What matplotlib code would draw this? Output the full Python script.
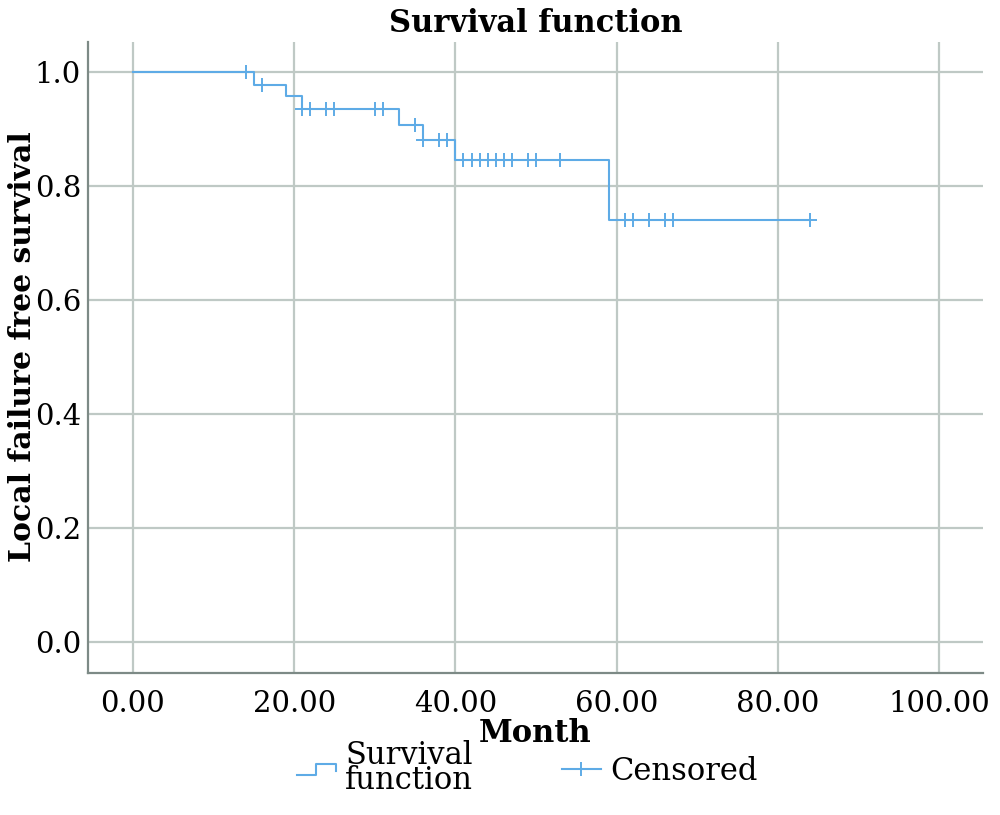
import matplotlib
matplotlib.use('Agg')
import matplotlib.pyplot as plt
from matplotlib.lines import Line2D
from matplotlib.legend_handler import HandlerBase
import numpy as np

# step points of the survival curve (month, survival)
step_month = [0, 15, 19, 21, 33, 36, 40, 59, 84]
step_surv = [1.0, 0.978, 0.957, 0.935, 0.907, 0.880, 0.845, 0.740, 0.740]

# censored observations (month)
censored_month = [14, 16, 21, 22, 24, 25, 30, 31, 35, 36, 38, 39,
                  41, 42, 43, 44, 45, 46, 47, 49, 50, 53,
                  61, 62, 64, 66, 67, 84]

x_ticks = [0, 20, 40, 60, 80, 100]
y_ticks = [0.0, 0.2, 0.4, 0.6, 0.8, 1.0]

line_color = '#5eabe6'
grid_color = '#bfc9c5'
spine_color = '#7d8a86'

plt.rcParams['font.family'] = ['DejaVu Serif']


def surv_at(t):
    idx = np.searchsorted(step_month, t, side='right') - 1
    return step_surv[idx]


class StepHandler(HandlerBase):
    # legend icon drawn as a small step
    def create_artists(self, legend, orig_handle, xdescent, ydescent,
                       width, height, fontsize, trans):
        x0, y0 = -xdescent, -ydescent
        xs = [x0, x0 + width * 0.5, x0 + width * 0.5, x0 + width, x0 + width]
        ys = [y0 + height * 0.2, y0 + height * 0.2, y0 + height * 0.75,
              y0 + height * 0.75, y0 + height * 0.4]
        ln = Line2D(xs, ys, color=orig_handle.get_color(),
                    lw=orig_handle.get_linewidth(), transform=trans)
        return [ln]


fig = plt.figure(figsize=(10, 8.15), dpi=100)
ax = fig.add_axes([0.088, 0.1742, 0.895, 0.7743])

ax.step(step_month, step_surv, where='post', color=line_color, lw=1.5, zorder=3)
cens_y = [surv_at(t) for t in censored_month]
ax.plot(censored_month, cens_y, ls='none', marker='+', ms=10, mew=1.4,
        color=line_color, zorder=4)

ax.set_xlim(-5.58, 105.46)
ax.set_ylim(-0.055, 1.0527)
ax.set_xticks(x_ticks)
ax.set_xticklabels([f'{v:.2f}' for v in x_ticks])
ax.set_yticks(y_ticks)
ax.set_yticklabels([f'{v:.1f}' for v in y_ticks])
ax.tick_params(axis='x', length=0, labelsize=21, pad=12)
ax.tick_params(axis='y', length=0, labelsize=21, pad=5)
ax.grid(True, color=grid_color, lw=1.6)
ax.set_axisbelow(True)

for s in ['top', 'right']:
    ax.spines[s].set_visible(False)
for s in ['left', 'bottom']:
    ax.spines[s].set_color(spine_color)
    ax.spines[s].set_linewidth(1.6)

ax.set_title('Survival function', fontsize=22, fontweight='bold', pad=7)
ax.set_xlabel('Month', fontsize=22, fontweight='bold', labelpad=0)
ax.set_ylabel('Local failure free survival', fontsize=21.5, fontweight='bold')
ax.yaxis.set_label_coords(-0.057, 0.517)

h_surv = Line2D([], [], color=line_color, lw=1.5)
h_cens = Line2D([], [], color=line_color, lw=1.5, marker='+', ms=10, mew=1.4)
leg = fig.legend([h_surv, h_cens], ['Survival\nfunction', 'Censored'],
                 handler_map={h_surv: StepHandler()},
                 loc='center', bbox_to_anchor=(0.527, 0.058), ncol=2,
                 frameon=False, fontsize=22, handlelength=1.28,
                 handletextpad=0.3, columnspacing=2.9)
for t in leg.get_texts():
    t.set_linespacing(0.75)

fig.savefig('out.png', dpi=100)
